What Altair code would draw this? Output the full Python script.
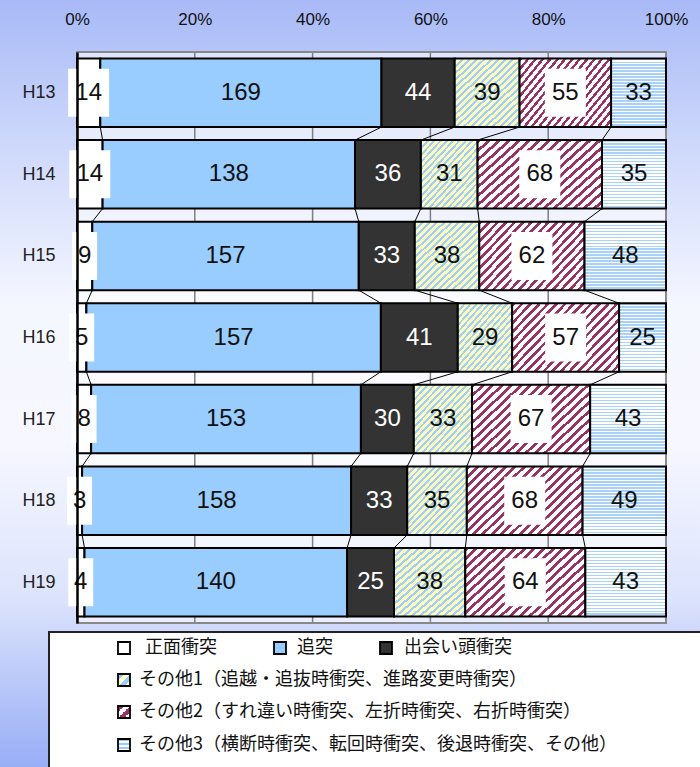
import json
import altair as alt
import pandas as pd

# ---------------- data ----------------
years = ["H13", "H14", "H15", "H16", "H17", "H18", "H19"]
categories = [
    "正面衝突",
    "追突",
    "出会い頭衝突",
    "その他1（追越・追抜時衝突、進路変更時衝突）",
    "その他2（すれ違い時衝突、左折時衝突、右折時衝突）",
    "その他3（横断時衝突、転回時衝突、後退時衝突、その他）",
]
head_on = [14, 14, 9, 5, 8, 3, 4]
rear_end = [169, 138, 157, 157, 153, 158, 140]
crossing = [44, 36, 33, 41, 30, 33, 25]
other1 = [39, 31, 38, 29, 33, 35, 38]
other2 = [55, 68, 62, 57, 67, 68, 64]
other3 = [33, 35, 48, 25, 43, 49, 43]
tick_values = [0, 0.2, 0.4, 0.6, 0.8, 1.0]
grid_values = [0.2, 0.4, 0.6, 0.8]

series = [head_on, rear_end, crossing, other1, other2, other3]

# ---------------- layout ----------------
W, H = 589, 571
PAD_L, PAD_T, PAD_R, PAD_B = 77, 52, 34, 144
HALF = 0.42  # half bar thickness in row units

rows = []
ends = []
for i, y in enumerate(years):
    vals = [s[i] for s in series]
    tot = sum(vals)
    cum = 0
    row_end = []
    for k, v in enumerate(vals):
        st = cum / tot
        cum += v
        en = cum / tot
        row_end.append(en)
        rows.append(dict(year=y, idx=i, k=k, v=v, start=st, end=en, mid=(st + en) / 2,
                         ylo=i - HALF, yhi=i + HALF, digits=len(str(v))))
    ends.append(row_end)
df = pd.DataFrame(rows)

conn = []
for i in range(len(years) - 1):
    for k in range(5):
        conn.append(dict(x=ends[i][k], y=i + HALF, x2=ends[i + 1][k], y2=i + 1 - HALF))
conn_df = pd.DataFrame(conn)
grid_df = pd.DataFrame({"g": grid_values})
one = pd.DataFrame({"a": [1]})

# ---------------- scales / axes ----------------
xscale = alt.Scale(domain=[0, 1], nice=False, zero=False)
yscale = alt.Scale(domain=[-0.5, len(years) - 0.5], reverse=True, nice=False, zero=False)
xaxis = alt.Axis(orient="top", format="%", values=tick_values, grid=False, domain=False,
                 ticks=False, labelPadding=24, labelFontSize=17, labelColor="#111",
                 labelFont="Liberation Sans", labelFlush=False, labelOverlap=False,
                 title=None, zindex=1)
yaxis = alt.Axis(values=list(range(len(years))),
                 labelExpr=json.dumps(years) + "[datum.value]",
                 grid=False, domain=True, domainColor="black", domainWidth=2.5,
                 ticks=False, labelPadding=22, labelFontSize=18, labelColor="#222",
                 labelFont="Liberation Sans", labelFlush=False, labelOverlap=False,
                 title=None, zindex=1)


def X(f):
    return alt.X(f, type="quantitative", scale=xscale, axis=xaxis)


def Y(f):
    return alt.Y(f, type="quantitative", scale=yscale, axis=yaxis)


# ---------------- fills ----------------
def stripe_stops(c1, c2, n, frac):
    stops = []
    for i in range(n):
        a, b, c = i / n, (i + frac) / n, (i + 1) / n
        stops += [{"offset": a, "color": c1}, {"offset": b, "color": c1},
                  {"offset": b, "color": c2}, {"offset": min(c, 1.0), "color": c2}]
    return stops


def diag_grad(w, h, period, c1, c2, frac):
    s = (w + h) / (w * w + h * h)
    n = max(1, round((w + h) / period))
    return {"gradient": "linear", "x1": 0, "y1": 0, "x2": w * s, "y2": h * s,
            "stops": stripe_stops(c1, c2, n, frac)}


def horiz_grad(n, c1, c2, frac):
    return {"gradient": "linear", "x1": 0, "y1": 0, "x2": 0, "y2": 1,
            "stops": stripe_stops(c1, c2, n, frac)}


bar_h = H / len(years) * 2 * HALF
w1 = W * df[df.k == 3].apply(lambda r: r.end - r.start, axis=1).mean()
w2 = W * df[df.k == 4].apply(lambda r: r.end - r.start, axis=1).mean()

fills = [
    "#ffffff",
    "#99ccff",
    "#333333",
    diag_grad(w1, bar_h, 7.0, "#9fd0fa", "#fffbbd", 0.42),
    diag_grad(w2, bar_h, 9.0, "#993366", "#ffffff", 0.42),
    horiz_grad(23, "#a9d2fb", "#ffffff", 0.5),
]
legend_fills = [
    "#ffffff",
    "#99ccff",
    "#333333",
    diag_grad(13, 13, 13, "#99ccff", "#ffffc8", 0.5),
    diag_grad(13, 13, 13, "#993366", "#ffffff", 0.5),
    horiz_grad(3, "#99ccff", "#ffffff", 0.5),
]

bg_grad = {"gradient": "linear", "x1": 0, "y1": 0, "x2": 0, "y2": 1, "stops": [
    {"offset": 0.0, "color": "#a8b9f7"},
    {"offset": 0.15, "color": "#c6d2fa"},
    {"offset": 0.40, "color": "#f5f7ff"},
    {"offset": 0.58, "color": "#f6f7ff"},
    {"offset": 0.78, "color": "#dce3fc"},
    {"offset": 1.0, "color": "#98aef6"},
]}

layers = []
# canvas background
layers.append(alt.Chart(one).mark_rect(fill=bg_grad, strokeWidth=0).encode(
    x=alt.value(-PAD_L), x2=alt.value(W + PAD_R), y=alt.value(-PAD_T), y2=alt.value(H + PAD_B)))
# plot area fill
layers.append(alt.Chart(one).mark_rect(fill="white", opacity=0.55, strokeWidth=0).encode(
    x=alt.value(0), x2=alt.value(W), y=alt.value(0), y2=alt.value(H)))
# grid lines
layers.append(alt.Chart(grid_df).mark_rule(color="#7f7f7f", strokeWidth=1.5).encode(
    x=X("g"), y=alt.value(0), y2=alt.value(H)))
# frame
layers.append(alt.Chart(one).mark_rect(fillOpacity=0, fill="white", stroke="#888888", strokeWidth=2).encode(
    x=alt.value(0), x2=alt.value(W), y=alt.value(0), y2=alt.value(H)))
# connector lines
layers.append(alt.Chart(conn_df).mark_rule(color="black", strokeWidth=1).encode(
    x=X("x"), x2="x2", y=Y("y"), y2="y2"))
# bars
for k in range(6):
    layers.append(alt.Chart(df).transform_filter(alt.datum.k == k).mark_rect(
        fill=fills[k], stroke="black", strokeWidth=2).encode(
        x=X("start"), x2="end", y=Y("ylo"), y2="yhi"))
# white label boxes
box_h = 48
for digits, half_w in [(1, 25 / 2), (2, 41 / 2)]:
    r = half_w / (box_h / 2)
    path = f"M{-r},-1L{r},-1L{r},1L{-r},1Z"
    layers.append(alt.Chart(df).transform_filter(
        "(datum.k == 0 || datum.k == 4) && datum.digits == %d" % digits).mark_point(
        shape=path, size=box_h * box_h, filled=True, fill="white", opacity=1, strokeWidth=0).encode(
        x=X("mid"), y=Y("idx")))
# value labels
layers.append(alt.Chart(df).transform_filter(alt.datum.k != 2).mark_text(
    fontSize=24, font="Liberation Sans", color="#111", align="center", baseline="middle").encode(
    x=X("mid"), y=Y("idx"), text="v:Q"))
layers.append(alt.Chart(df).transform_filter(alt.datum.k == 2).mark_text(
    fontSize=24, font="Liberation Sans", color="white", align="center", baseline="middle").encode(
    x=X("mid"), y=Y("idx"), text="v:Q"))

# legend box
layers.append(alt.Chart(one).mark_rect(fill="white", stroke="#222222", strokeWidth=2).encode(
    x=alt.value(-28), x2=alt.value(W + 80), y=alt.value(580), y2=alt.value(H + 200)))
# legend entries: (symbol centre x, centre y, text x) in plot pixels
legend_pos = [(47, 596, 68), (203, 596, 220), (309, 596, 327),
              (47, 628, 62), (47, 660, 62), (47, 693, 62)]
for k, (cx, cy, tx) in enumerate(legend_pos):
    layers.append(alt.Chart(one).mark_rect(fill=legend_fills[k], stroke="black", strokeWidth=1.8).encode(
        x=alt.value(cx - 6), x2=alt.value(cx + 6), y=alt.value(cy - 6), y2=alt.value(cy + 6)))
    layers.append(alt.Chart(one).mark_text(
        fontSize=18, font="Noto Sans CJK JP", color="#111", align="left", baseline="middle").encode(
        x=alt.value(tx), y=alt.value(cy), text=alt.value(categories[k])))

chart = alt.layer(*layers).properties(
    width=W, height=H,
    padding={"left": PAD_L, "top": PAD_T, "right": PAD_R, "bottom": PAD_B},
    autosize=alt.AutoSizeParams(type="none"),
    background="white",
).configure_view(stroke=None)

chart.save("out.html", embed_options={"renderer": "svg", "actions": False})
